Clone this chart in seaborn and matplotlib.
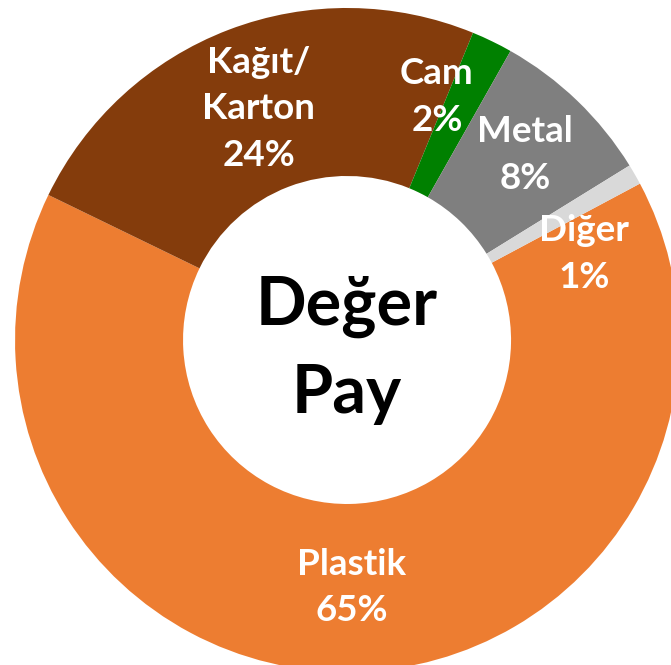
import matplotlib
matplotlib.use("Agg")
import matplotlib.pyplot as plt
import seaborn as sns
import numpy as np

# Donut chart data (value share by material)
categories = ['Plastik', 'Kağıt/\nKarton', 'Cam', 'Metal', 'Diğer']
shares = [65, 24, 2, 8, 1]
colors = ['#ED7D31', '#843C0C', '#008000', '#7F7F7F', '#D9D9D9']
center_title = 'Değer\nPay'

sns.set_theme(style='white')
plt.rcParams['font.family'] = ['Lato', 'DejaVu Sans']

fig = plt.figure(figsize=(6.71, 6.65), dpi=100)
ax = fig.add_axes([0.0224, -0.0105, 0.9896, 0.9985])

wedges, _ = ax.pie(shares, colors=sns.color_palette(colors), startangle=28.1,
                   counterclock=False, radius=1,
                   wedgeprops=dict(width=0.506, linewidth=0))
ax.set_xlim(-1, 1)
ax.set_ylim(-1, 1)
ax.set_axis_off()

# label placement tweaks (angle shift in degrees, radius)
label_shift = {'Cam': (5.6, 0.78), 'Diğer': (-10, 0.76), 'Metal': (0, 0.774)}

for w, cat, val in zip(wedges, categories, shares):
    mid = (w.theta1 + w.theta2) / 2
    shift, r = label_shift.get(cat, (0, 0.745))
    ang = np.deg2rad(mid + shift)
    ax.text(r * np.cos(ang), r * np.sin(ang), f'{cat}\n{val}%',
            ha='center', va='center', multialignment='center',
            color='white', fontsize=26.5, fontweight='bold', linespacing=1.5)

ax.text(0, -0.03, center_title, ha='center', va='center', color='black',
        fontsize=48, fontweight='bold', linespacing=1.5)

fig.savefig('out.png', dpi=100)
